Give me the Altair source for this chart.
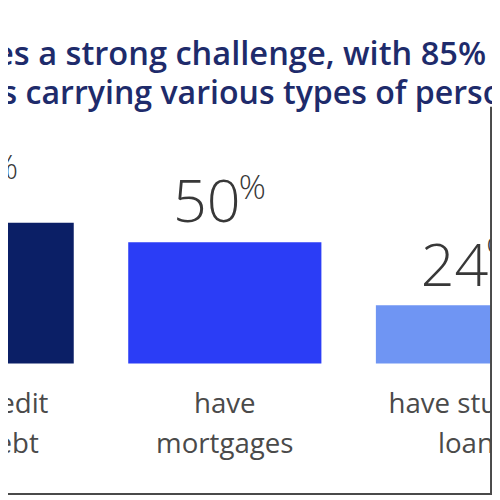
import altair as alt
import pandas as pd

# ---- data ----
categories = ["have credit card debt", "have mortgages", "have student loans"]
values = [58, 50, 24]
label_lines = [["have credit", "card debt"], ["have", "mortgages"], ["have student", "loans"]]
title_line1 = "Debt poses a strong challenge, with 85%"
title_line2 = "of families carrying various types of personal debt"
bar_colors = ["#0b1f66", "#2b3df6", "#6f95f3"]

df = pd.DataFrame({
    "category": categories,
    "value": values,
    "num": [str(v) for v in values],
    "pct": ["%"] * len(values),
    "label": label_lines,
})

W, H = 490, 489

x = alt.X("category:N", sort=categories, axis=None,
          scale=alt.Scale(range=[-129, 568], paddingInner=0.22, paddingOuter=0))
y_scale = alt.Scale(domain=[0, 100], range=[357, 111])

base = alt.Chart(df)

bars = base.mark_bar(clip=True).encode(
    x=x,
    y=alt.Y("value:Q", scale=y_scale, axis=None),
    color=alt.Color("category:N", scale=alt.Scale(domain=categories, range=bar_colors), legend=None),
)

nums = base.mark_text(align="right", baseline="alphabetic", dx=16, dy=-20,
                      fontSize=60, font="Open Sans", fontWeight=300, color="#383838").encode(
    x=x, y=alt.Y("value:Q", scale=y_scale, axis=None), text="num:N")

pcts = base.mark_text(align="left", baseline="alphabetic", dx=14, dy=-44,
                      fontSize=34, font="Open Sans", fontWeight=300, color="#383838").encode(
    x=x, y=alt.Y("value:Q", scale=y_scale, axis=None), text="pct:N")

labels = base.mark_text(align="center", baseline="alphabetic", dy=50, lineHeight=41,
                        fontSize=28, font="Open Sans", color="#4a4a4a").encode(
    x=x, y=alt.datum(0, scale=y_scale), text="label")

one = alt.Chart(pd.DataFrame({"k": [0]}))
t1 = one.mark_text(align="right", baseline="alphabetic", fontSize=33, font="Open Sans",
                   fontWeight=600, color="#1e2b6b").encode(
    x=alt.value(484), y=alt.value(55), text=alt.value(title_line1))
t2 = one.mark_text(align="left", baseline="alphabetic", fontSize=32.5, font="Open Sans",
                   fontWeight=600, color="#1e2b6b").encode(
    x=alt.value(-154), y=alt.value(94), text=alt.value(title_line2))

rule_b = one.mark_rule(color="#4a4a4a", strokeWidth=2).encode(
    x=alt.value(0), x2=alt.value(W), y=alt.value(H))
rule_r = one.mark_rule(color="#4a4a4a", strokeWidth=2).encode(
    x=alt.value(W - 1), y=alt.value(97), y2=alt.value(H))

chart = alt.layer(bars, nums, pcts, labels, t1, t2, rule_b, rule_r).properties(
    width=W, height=H, autosize="none", padding=0, background="white"
).configure_view(stroke=None)

chart.save("out.html", embed_options={"renderer": "svg", "actions": False})
